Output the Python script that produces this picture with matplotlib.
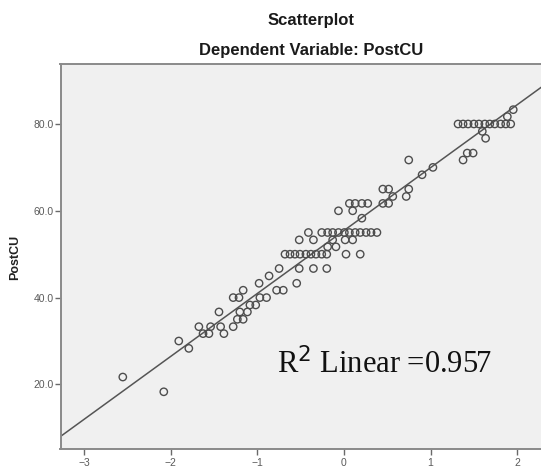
import matplotlib
matplotlib.use("Agg")
import matplotlib.pyplot as plt
from matplotlib.ticker import FormatStrFormatter

# ---- data ----
x_vals = [
    -2.552, -2.079, -1.906, -1.790,
    -1.674, -1.626, -1.558, -1.539, -1.442, -1.423, -1.385,
    -1.278, -1.230, -1.163, -1.201, -1.114, -1.085, -1.018, -1.278, -1.211, -1.163,
    -0.970, -0.893, -0.777, -0.700, -0.979, -0.864, -0.748, -0.545,
    -0.516, -0.352, -0.198,
    -0.680, -0.622, -0.565, -0.507, -0.439, -0.381, -0.323, -0.256, -0.198, 0.024, 0.188,
    -0.188, -0.092,
    -0.516, -0.352, -0.130, 0.014, 0.101,
    -0.410, -0.256, -0.188, -0.130, -0.063, 0.005, 0.063, 0.130, 0.188, 0.256, 0.313, 0.381,
    -0.063, 0.101, 0.207,
    0.063, 0.130, 0.207, 0.275, 0.449, 0.516,
    0.564, 0.719,
    0.449, 0.516, 0.748,
    0.748, 0.902, 1.027,
    1.375, 1.423, 1.491, 1.635, 1.597,
    1.317, 1.375, 1.433, 1.500, 1.558, 1.626, 1.683, 1.741, 1.809, 1.867, 1.925,
    1.886, 1.954,
]
y_vals = [
    21.7, 18.3, 30.0, 28.3,
    33.3, 31.7, 31.7, 33.3, 36.7, 33.3, 31.7,
    33.3, 35.0, 35.0, 36.7, 36.7, 38.3, 38.3, 40.0, 40.0, 41.7,
    40.0, 40.0, 41.7, 41.7, 43.3, 45.0, 46.7, 43.3,
    46.7, 46.7, 46.7,
    50.0, 50.0, 50.0, 50.0, 50.0, 50.0, 50.0, 50.0, 50.0, 50.0, 50.0,
    51.7, 51.7,
    53.3, 53.3, 53.3, 53.3, 53.3,
    55.0, 55.0, 55.0, 55.0, 55.0, 55.0, 55.0, 55.0, 55.0, 55.0, 55.0, 55.0,
    60.0, 60.0, 58.3,
    61.7, 61.7, 61.7, 61.7, 61.7, 61.7,
    63.3, 63.3,
    65.0, 65.0, 65.0,
    71.7, 68.3, 70.0,
    71.7, 73.3, 73.3, 76.7, 78.3,
    80.0, 80.0, 80.0, 80.0, 80.0, 80.0, 80.0, 80.0, 80.0, 80.0, 80.0,
    81.7, 83.3,
]

fit_slope = 14.5
fit_intercept = 55.44
r2_text = "R$^2$ Linear =0.957"

x_ticks = [-3, -2, -1, 0, 1, 2]
y_ticks = [20, 40, 60, 80]

title1 = "Scatterplot"
title2 = "Dependent Variable: PostCU"
y_label = "PostCU"

# ---- figure ----
W, H = 541, 472
fig = plt.figure(figsize=(W / 100, H / 100), dpi=100, facecolor="white")
# plot frame runs past the right edge of the picture (cropped, as in the reference)
L, R, T, B = 60.5, 561.5, 64, 449
ax = fig.add_axes([L / W, 1 - B / H, (R - L) / W, (B - T) / H])
ax.set_facecolor("#f0f0f0")

xlim = (-3.271, 2.511)
ylim = (5.12, 93.82)
ax.set_xlim(*xlim)
ax.set_ylim(*ylim)

lx = [xlim[0], xlim[1]]
ly = [fit_intercept + fit_slope * v for v in lx]
ax.plot(lx, ly, color="#555555", lw=1.1, zorder=2)

ax.scatter(x_vals, y_vals, s=28, facecolors="none", edgecolors="#4d4d4d",
           linewidths=1.0, zorder=3)

for sp in ax.spines.values():
    sp.set_color("#8a8a8a")
    sp.set_linewidth(1.4)

ax.set_xticks(x_ticks)
ax.set_yticks(y_ticks)
ax.yaxis.set_major_formatter(FormatStrFormatter("%.1f"))
ax.tick_params(axis="both", direction="out", length=4.5, width=1.0,
               colors="#6a6a6a", labelsize=7.5, labelcolor="#5a5a5a")
for lab in ax.get_xticklabels() + ax.get_yticklabels():
    lab.set_family("Liberation Sans")
ax.tick_params(axis="x", pad=2)
ax.tick_params(axis="y", pad=0.5)

fig.text(311 / W, 1 - 20 / H, title1, ha="center", va="center",
         fontsize=12, fontweight="bold", family="Liberation Sans", color="#1a1a1a")
fig.text(311 / W, 1 - 51 / H, title2, ha="center", va="center",
         fontsize=12, fontweight="bold", family="Liberation Sans", color="#1a1a1a")

fig.text(15 / W, 1 - 257 / H, y_label, ha="center", va="center", rotation=90,
         fontsize=9, fontweight="bold", family="Liberation Sans", color="#222222")

fig.text(277 / W, 1 - 364 / H, r2_text, fontsize=22, family="Liberation Serif",
         color="#111111", ha="left", va="center")

fig.savefig("out.png", dpi=100, facecolor="white")
